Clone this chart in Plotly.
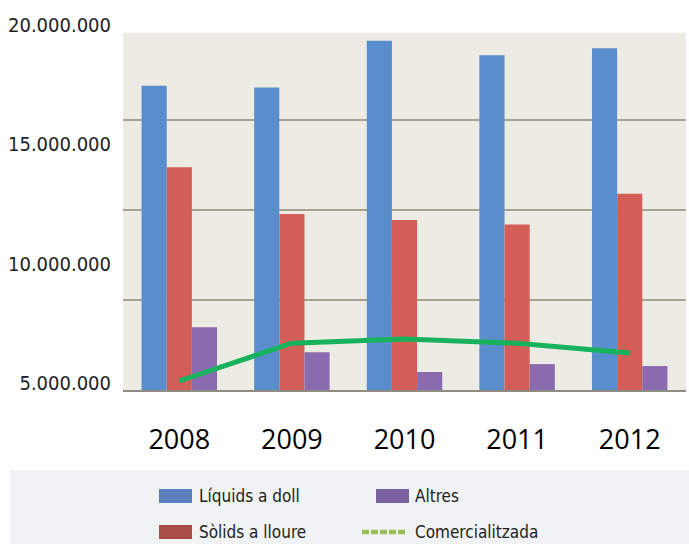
import plotly.graph_objects as go

# ---------------- data ----------------
years = ["2008", "2009", "2010", "2011", "2012"]
liquids = [16.9e6, 16.8e6, 19.4e6, 18.6e6, 18.98e6]
solids = [12.37e6, 9.78e6, 9.44e6, 9.2e6, 10.9e6]
altres = [3.48e6, 2.1e6, 1.0e6, 1.44e6, 1.33e6]
comercialitzada = [0.5e6, 2.6e6, 2.83e6, 2.6e6, 2.05e6]

series_names = ["Líquids a doll", "Sòlids a lloure", "Altres", "Comercialitzada"]
ytick_vals = [5e6, 10e6, 15e6, 20e6]
ytick_text = ["5.000.000", "10.000.000", "15.000.000", "20.000.000"]

# ---------------- styling ----------------
W, H = 689, 544
ML, MR = 123, 3
PW = W - ML - MR
NARROW = "DejaVu Sans Condensed, Liberation Sans Narrow, sans-serif"

bar_colors = ["#5a8dcb", "#d35e57", "#8b6bb0"]
line_color = "#17b25b"
legend_colors = ["#5b7fbf", "#a84d48", "#7a62a0", "#9bbb59"]


def px2x(px):
    return (px - ML) / PW


def py2y(py):
    return (H - py) / H


plot_bottom, plot_top = 390, 32.7
ymax = 20e6 * (plot_bottom - plot_top) / 360.0

# secondary label axis: 5M at y=383px, 20M at y=25px
lab_top_px, lab_bot_px = 20, 390
per_px = 15e6 / (383 - 25)
y2_lo = 5e6 - (lab_bot_px - 383) * per_px
y2_hi = 5e6 + (383 - lab_top_px) * per_px

fig = go.Figure()
for name, vals, col in zip(series_names[:3], [liquids, solids, altres], bar_colors):
    fig.add_trace(go.Bar(x=years, y=vals, name=name, marker=dict(color=col, line=dict(width=0)),
                         showlegend=False))
fig.add_trace(go.Scatter(x=years, y=comercialitzada, name=series_names[3], mode="lines",
                         line=dict(color=line_color, width=5), showlegend=False))
# carrier trace for the label axis
fig.add_trace(go.Scatter(x=[years[0]], y=[None], yaxis="y2", showlegend=False, hoverinfo="skip"))

shapes = [
    # plot background
    dict(type="rect", xref="x domain", yref="y domain", x0=0, x1=1, y0=0, y1=1,
         fillcolor="#ececE4", line=dict(width=0), layer="below"),
    # legend background
    dict(type="rect", xref="paper", yref="paper", x0=px2x(10), x1=px2x(689), y0=py2y(544), y1=py2y(470),
         fillcolor="#f1f2f4", line=dict(width=0), layer="below"),
]
annotations = []
legend_pos = [(159, 496), (159, 532), (376, 496), (360, 532)]
for i, (name, (lx, ly)) in enumerate(zip(series_names, legend_pos)):
    if i < 3:
        shapes.append(dict(type="rect", xref="paper", yref="paper",
                           x0=px2x(lx), x1=px2x(lx + 33), y0=py2y(ly + 7), y1=py2y(ly - 7),
                           fillcolor=legend_colors[i], line=dict(width=0)))
    else:
        shapes.append(dict(type="line", xref="paper", yref="paper",
                           x0=px2x(lx + 2), x1=px2x(407), y0=py2y(ly), y1=py2y(ly),
                           line=dict(color=legend_colors[i], width=4.5, dash="7px,2px")))
    annotations.append(dict(text=name, xref="paper", yref="paper", x=px2x(413 if i >= 2 else 197),
                            y=py2y(ly), xanchor="left", yanchor="middle", showarrow=False,
                            font=dict(family=NARROW, size=17, color="#222222")))

fig.update_layout(
    template="none",
    width=W, height=H, autosize=False,
    margin=dict(l=ML, r=MR, t=0, b=0, pad=0),
    paper_bgcolor="white", plot_bgcolor="rgba(0,0,0,0)",
    barmode="group", bargap=0.33, bargroupgap=0.0,
    shapes=shapes, annotations=annotations,
    xaxis=dict(domain=[0, 1], anchor="y", type="category", showgrid=False, automargin=False,
               showline=True, linecolor="#8f8d82", linewidth=2, ticks="",
               tickfont=dict(family="Open Sans, sans-serif", size=27, color="#000000"),
               ticklabelstandoff=25),
    yaxis=dict(domain=[py2y(plot_bottom), py2y(plot_top)], range=[0, ymax], automargin=False,
               showticklabels=False, ticks="", showgrid=True, gridcolor="#a6a394", gridwidth=1.5,
               tickvals=[5e6, 10e6, 15e6], zeroline=False, showline=False),
    yaxis2=dict(domain=[py2y(lab_bot_px), py2y(lab_top_px)], range=[y2_lo, y2_hi],
                anchor="free", position=0, showgrid=False, zeroline=False, showline=False,
                automargin=False,
                ticks="", tickvals=ytick_vals, ticktext=ytick_text, ticklabelstandoff=12,
                tickfont=dict(family=NARROW, size=20, color="#222222")),
)

fig.write_html("out.html", config={"displayModeBar": False},
               post_script="document.body.style.margin='0';document.body.style.overflow='hidden';")
